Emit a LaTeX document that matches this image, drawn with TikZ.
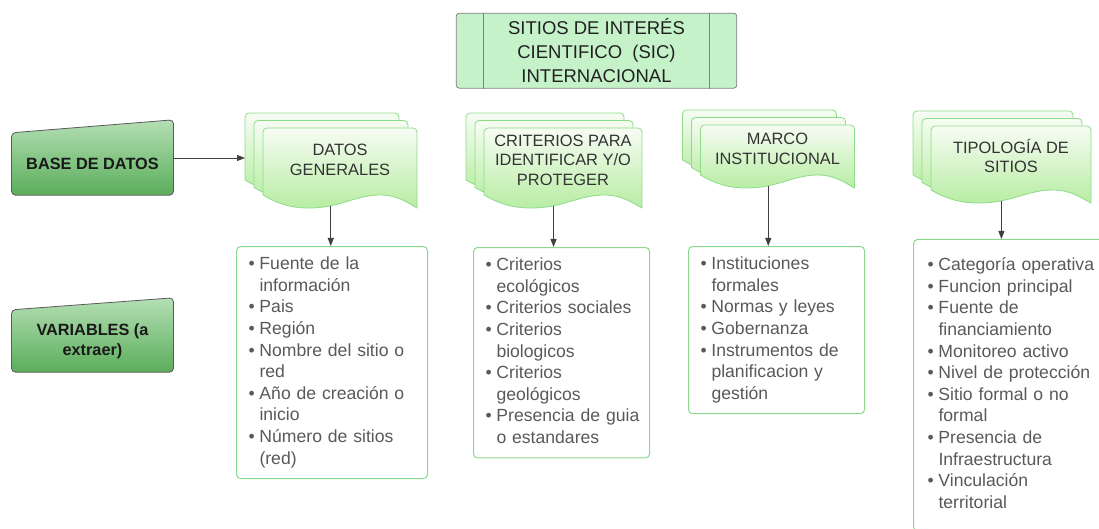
\documentclass[tikz,border=0pt]{standalone}
\usepackage{fontspec}
\setmainfont{Liberation Sans}
\usetikzlibrary{arrows.meta,backgrounds}
\definecolor{pagetop}{HTML}{F7FCF4}
\definecolor{pagebot}{HTML}{B8EDA3}
\definecolor{pageline}{HTML}{8EDB8A}
\definecolor{listline}{HTML}{8AD98E}
\definecolor{listtxt}{HTML}{595959}
\definecolor{ttlfill}{HTML}{C6F2C9}
\definecolor{sidetop}{HTML}{B4DFB4}
\definecolor{sidebot}{HTML}{5BAD5B}
\newcommand{\blt}{\hspace*{4pt}\strut\makebox[11pt][l]{\textbullet}}
\newcommand{\hng}{\hspace*{15pt}\strut}
\tikzset{
  pics/docstack/.style n args={2}{code={
    \foreach \dx/\dy in {-18/-15,-9/-7.5,0/0}{
      \begin{scope}[shift={(\dx,\dy)}]
        \path[docpage] (0,#2-13) -- (0,4) arc[start angle=180,end angle=90,radius=4pt]
          -- (#1-4,0) arc[start angle=90,end angle=0,radius=4pt] -- (#1,#2)
          .. controls ({0.95*#1},#2-4) and ({0.88*#1},#2-13) .. ({0.76*#1},#2-13)
          .. controls ({0.6*#1},#2-13) and ({0.5*#1},#2) .. ({0.3*#1},#2)
          .. controls ({0.18*#1},#2) and ({0.1*#1},#2-4) .. (0,#2-13) -- cycle;
      \end{scope}
    }
    \coordinate (-bot) at ({0.44*#1},#2-2);
    \coordinate (-w) at (-18,30);
  }}
}
\begin{document}
\begin{tikzpicture}[x=1pt,y=-1pt,
  docpage/.style={draw=pageline,line width=0.8pt,top color=pagetop,bottom color=pagebot},
  doctxt/.style={align=center,text=black!80,font=\fontsize{16.4}{19.6}\selectfont},
  listbox/.style={draw=listline,line width=1pt,rounded corners=4pt,anchor=north west,
                  align=left,inner xsep=8pt,inner ysep=8pt,text=listtxt,
                  font=\fontsize{17.6}{21.6}\selectfont},
  ttlbox/.style={draw=black!50,line width=0.8pt,fill=ttlfill,rounded corners=3pt,
                 minimum width=280.5pt,minimum height=75pt,align=center,text=black!87,
                 font=\fontsize{18.5}{23.7}\selectfont},
  sidebox/.style={minimum width=161.6pt,minimum height=62pt,align=center,text=black!90,
                  font=\bfseries\fontsize{16.3}{20}\selectfont},
  sideshape/.style={draw=black!65,line width=0.8pt,rounded corners=4pt,
                    top color=sidetop,bottom color=sidebot},
  arr/.style={draw=black!75,line width=0.9pt,-{Triangle[length=8pt,width=6pt]}}]
\useasboundingbox (0,0) rectangle (1099,529);
\clip (0,0) rectangle (1099,529);

% title
\node[ttlbox] (ttl) at (596.5,50.7) {SITIOS DE INTERÉS\\CIENTIFICO\ \ (SIC)\\INTERNACIONAL};
\draw[black!50,line width=0.8pt] ([xshift=28pt]ttl.north west) -- ([xshift=28pt]ttl.south west);
\draw[black!50,line width=0.8pt] ([xshift=-28pt]ttl.north east) -- ([xshift=-28pt]ttl.south east);

% left labels
\node[sidebox] (base) at (92.5,164) {BASE DE DATOS};
\node[sidebox] (vars) at (92.5,341) {VARIABLES (a\\extraer)};
\begin{scope}[on background layer]
\path[sideshape] (base.south west) -- (base.north west) -- ([yshift=13pt]base.north east) -- (base.south east) -- cycle;
\path[sideshape] (vars.south west) -- (vars.north west) -- ([yshift=12pt]vars.north east) -- (vars.south east) -- cycle;
\end{scope}

% document stacks
\pic (genpg) at (263,128) {docstack={154}{80}};
\pic (critpg) at (484,128) {docstack={158}{80}};
\pic (marcpg) at (700.5,125) {docstack={154}{63}};
\pic (tippg) at (931,126) {docstack={160}{77}};
\node[doctxt] (gen) at (340,160) {DATOS\\GENERALES};
\node[doctxt] (crit) at (563,160) {CRITERIOS PARA\\IDENTIFICAR Y/O\\PROTEGER};
\node[doctxt] (marc) at (777.5,149) {MARCO\\INSTITUCIONAL};
\node[doctxt] (tip) at (1011,156) {TIPOLOGÍA DE\\SITIOS};

% lists
\node[listbox,text width=175pt] (genlist) at (236,246) {%
  \blt Fuente de la\\ \hng información\\ \blt Pais\\ \blt Región\\
  \blt Nombre del sitio o\\ \hng red\\ \blt Año de creación o\\ \hng inicio\\
  \blt Número de sitios\\ \hng (red)};
\node[listbox,text width=160pt] (critlist) at (473,247) {%
  \blt Criterios\\ \hng ecológicos\\ \blt Criterios sociales\\ \blt Criterios\\
  \hng biologicos\\ \blt Criterios\\ \hng geológicos\\ \blt Presencia de guia\\
  \hng o estandares};
\node[listbox,text width=160pt] (marclist) at (688,246) {%
  \blt Instituciones\\ \hng formales\\ \blt Normas y leyes\\ \blt Gobernanza\\
  \blt Instrumentos de\\ \hng planificacion y\\ \hng gestión};
\node[listbox,text width=200pt,inner xsep=10pt,inner ysep=16pt] (tiplist) at (913,239) {%
  \blt Categoría operativa\\ \blt Funcion principal\\ \blt Fuente de\\
  \hng financiamiento\\ \blt Monitoreo activo\\ \blt Nivel de protección\\
  \blt Sitio formal o no\\ \hng formal\\ \blt Presencia de\\ \hng Infraestructura\\
  \blt Vinculación\\ \hng territorial};

% connectors
\draw[arr] (base.east |- genpg-w) -- (genpg-w);
\draw[arr] (genpg-bot) -- (genpg-bot |- genlist.north);
\draw[arr] (critpg-bot) -- (critpg-bot |- critlist.north);
\draw[arr] (marcpg-bot) -- (marcpg-bot |- marclist.north);
\draw[arr] (tippg-bot) -- (tippg-bot |- tiplist.north);
\end{tikzpicture}
\end{document}
